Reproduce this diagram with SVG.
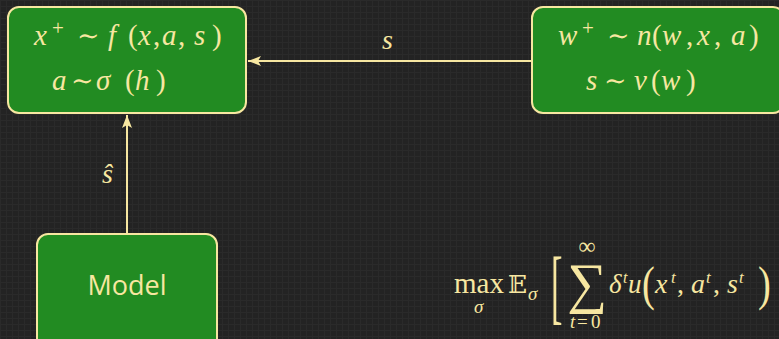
<svg xmlns="http://www.w3.org/2000/svg" width="779" height="339" viewBox="0 0 779 339">
<defs>
<pattern id="grid" width="6" height="6" patternUnits="userSpaceOnUse">
<rect width="6" height="6" fill="#232323"/>
<path d="M0 0.5H6M0.5 0V6" stroke="#2a2a2a" stroke-width="1"/>
</pattern>
<marker id="arr" markerWidth="14" markerHeight="10" refX="13" refY="5" orient="auto" markerUnits="userSpaceOnUse">
<path d="M0 0L13 5L0 10L3 5Z" fill="#f7e7a1"/>
</marker>
<style>
.box{fill:#228b22;stroke:#f7e7a1;stroke-width:2}
.m{font-family:"Liberation Serif","DejaVu Serif",serif;fill:#f7e7a1}
.i{font-style:italic}
.t{font-family:"DejaVu Serif",serif}
.sans{font-family:"Open Sans","Noto Sans",sans-serif;fill:#f7e7a1}
.edge{stroke:#f7e7a1;stroke-width:2;fill:none}
</style>
</defs>
<rect width="779" height="339" fill="url(#grid)"/>

<g id="connectors">
<line class="edge" x1="532" y1="61" x2="248" y2="61" marker-end="url(#arr)"/>
<line class="edge" x1="127" y1="234" x2="127" y2="115" marker-end="url(#arr)"/>
<text class="m i" x="382" y="49" font-size="28">s</text>
<text class="m i" x="102" y="183" font-size="28">ŝ</text>
</g>

<g id="node-agent">
<rect class="box" x="8" y="7" width="238" height="106" rx="11"/>
<text class="m" y="45" font-size="29"><tspan class="i" x="34">x</tspan><tspan x="52" y="35" font-size="21">+</tspan><tspan class="t" x="77" y="45" font-size="27">∼</tspan><tspan class="i" x="108">f</tspan><tspan x="128">(</tspan><tspan class="i" x="138">x</tspan><tspan x="153">,</tspan><tspan class="i" x="162">a</tspan><tspan x="178">,</tspan><tspan class="i" x="194">s</tspan><tspan x="212">)</tspan></text>
<text class="m" y="90" font-size="29"><tspan class="i" x="52">a</tspan><tspan class="t" x="71" font-size="27">∼</tspan><tspan class="i" x="96">σ</tspan><tspan x="125">(</tspan><tspan class="i" x="135">h</tspan><tspan x="156">)</tspan></text>
</g>

<g id="node-world">
<rect class="box" x="532" y="7" width="252" height="106" rx="11"/>
<text class="m" y="45" font-size="29"><tspan class="i" x="558">w</tspan><tspan x="582" y="35" font-size="21">+</tspan><tspan class="t" x="607" y="45" font-size="27">∼</tspan><tspan class="i" x="637">n</tspan><tspan x="652">(</tspan><tspan class="i" x="662">w</tspan><tspan x="686">,</tspan><tspan class="i" x="697">x</tspan><tspan x="714">,</tspan><tspan class="i" x="731">a</tspan><tspan x="749">)</tspan></text>
<text class="m" y="90" font-size="29"><tspan class="i" x="586">s</tspan><tspan class="t" x="604" font-size="27">∼</tspan><tspan class="i" x="634">ν</tspan><tspan x="651">(</tspan><tspan class="i" x="661">w</tspan><tspan x="686">)</tspan></text>
</g>

<g id="node-model">
<rect class="box" x="37" y="234" width="180" height="120" rx="11"/>
<text class="sans" x="127" y="295" text-anchor="middle" font-size="27">Model</text>
</g>

<g id="objective">
<text class="m" x="454" y="293" font-size="29">max</text>
<text class="m i" x="474" y="313" font-size="19">σ</text>
<text x="508" y="293" font-family="DejaVu Serif,DejaVu Sans,serif" font-size="25" fill="#f7e7a1">𝔼</text>
<text class="m i" x="528" y="300" font-size="19">σ</text>
<text class="m" x="0" y="0" font-size="82" transform="translate(551 314) scale(0.42 1)">[</text>
<text class="m" x="567" y="302" font-size="56">∑</text>
<text class="m" x="587" y="254" font-size="24" text-anchor="middle">∞</text>
<text class="m" y="328" font-size="19"><tspan class="i" x="570">t</tspan><tspan x="577">=</tspan><tspan x="591">0</tspan></text>
<text class="m" y="293" font-size="27"><tspan class="i" x="609">δ</tspan><tspan class="i" x="623" y="283" font-size="16">t</tspan><tspan class="i" x="628" y="293">u</tspan></text>
<text class="m" x="0" y="0" font-size="48" transform="translate(642 300) scale(0.8 1)">(</text>
<text class="m" y="293" font-size="28"><tspan class="i" x="655">x</tspan><tspan class="i" x="671" y="283" font-size="17">t</tspan><tspan x="677" y="293">,</tspan><tspan class="i" x="691">a</tspan><tspan class="i" x="706" y="283" font-size="17">t</tspan><tspan x="713" y="293">,</tspan><tspan class="i" x="727">s</tspan><tspan class="i" x="739" y="283" font-size="17">t</tspan></text>
<text class="m" x="0" y="0" font-size="48" transform="translate(758 300) scale(0.8 1)">)</text>
</g>
</svg>
